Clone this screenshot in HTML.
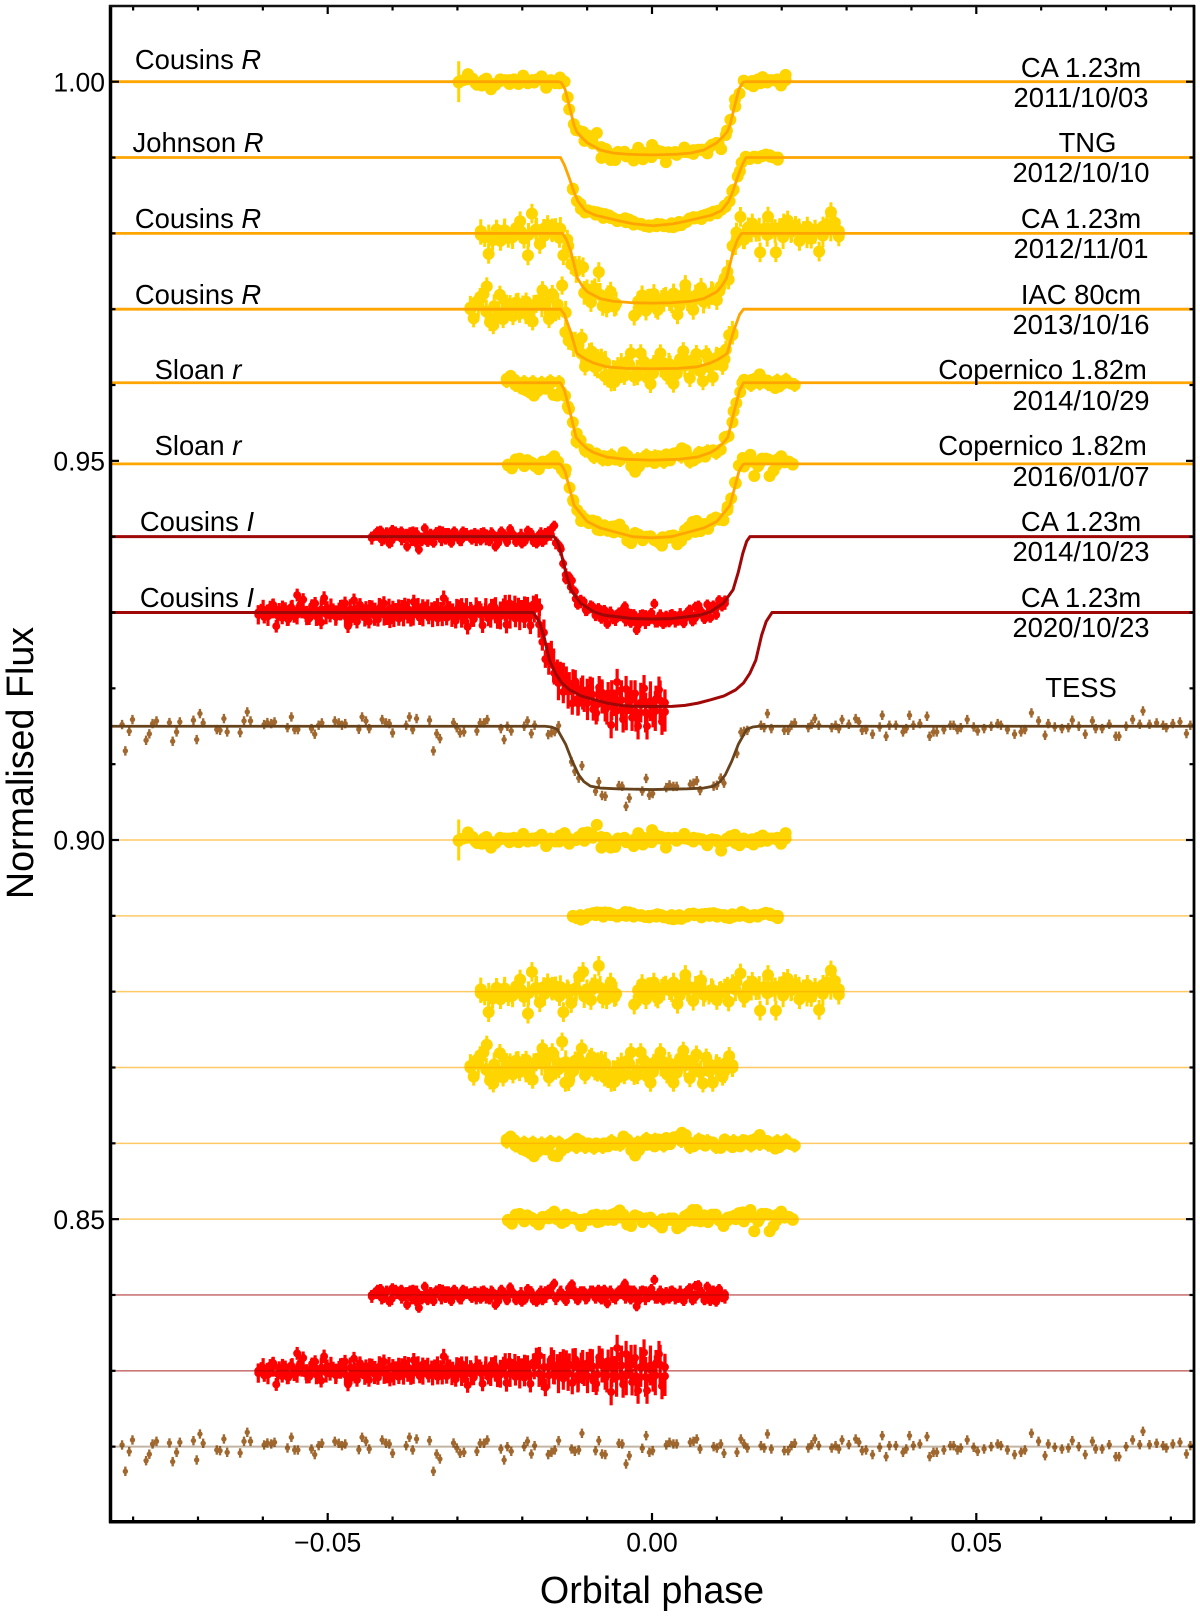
<!DOCTYPE html>
<html lang="en">
<head>
<meta charset="utf-8">
<title>Normalised flux light curves</title>
<style>
html,body{margin:0;padding:0;background:#fff;width:1200px;height:1617px;overflow:hidden}
svg{display:block}
text{font-family:"Liberation Sans",sans-serif;fill:#000}
.tk{font-size:26.5px}
.lb{font-size:27.4px;text-anchor:middle}
.ax{font-size:37.7px;text-anchor:middle}
</style>
</head>
<body>
<svg id="chart" xmlns="http://www.w3.org/2000/svg" width="1200" height="1617" viewBox="0 0 1200 1617">
  <g id="marks"></g>
  <g id="ticks"></g>
  <line x1="110.5" y1="5" x2="110.5" y2="1523" stroke="#000" stroke-width="3.5"/>
  <line x1="109" y1="1521.7" x2="1195" y2="1521.7" stroke="#000" stroke-width="3.5"/>
  <line x1="109" y1="6" x2="1195" y2="6" stroke="#111" stroke-width="2.6"/>
  <line x1="1194" y1="5" x2="1194" y2="1523" stroke="#000" stroke-width="2.8"/>
  <g id="ticklabels"></g>

  <text class="ax" x="652" y="1603">Orbital phase</text>
  <text class="ax" transform="translate(33,763) rotate(-90)">Normalised Flux</text>

  <g>
    <text class="lb" x="198" y="69">Cousins <tspan font-style="italic">R</tspan></text>
    <text class="lb" x="198" y="152">Johnson <tspan font-style="italic">R</tspan></text>
    <text class="lb" x="198" y="228">Cousins <tspan font-style="italic">R</tspan></text>
    <text class="lb" x="198" y="304">Cousins <tspan font-style="italic">R</tspan></text>
    <text class="lb" x="198" y="379">Sloan <tspan font-style="italic">r</tspan></text>
    <text class="lb" x="198" y="455">Sloan <tspan font-style="italic">r</tspan></text>
    <text class="lb" x="197" y="531">Cousins <tspan font-style="italic">I</tspan></text>
    <text class="lb" x="197" y="607">Cousins <tspan font-style="italic">I</tspan></text>
  </g>
  <g>
    <text class="lb" x="1081" y="77">CA 1.23m</text>
    <text class="lb" x="1081" y="107">2011/10/03</text>
    <text class="lb" x="1087.5" y="152">TNG</text>
    <text class="lb" x="1081" y="182">2012/10/10</text>
    <text class="lb" x="1081" y="228">CA 1.23m</text>
    <text class="lb" x="1081" y="258">2012/11/01</text>
    <text class="lb" x="1081" y="304">IAC 80cm</text>
    <text class="lb" x="1081" y="334">2013/10/16</text>
    <text class="lb" x="1042.5" y="379">Copernico 1.82m</text>
    <text class="lb" x="1081" y="410">2014/10/29</text>
    <text class="lb" x="1042.5" y="455">Copernico 1.82m</text>
    <text class="lb" x="1081" y="486">2016/01/07</text>
    <text class="lb" x="1081" y="531">CA 1.23m</text>
    <text class="lb" x="1081" y="561">2014/10/23</text>
    <text class="lb" x="1081" y="607">CA 1.23m</text>
    <text class="lb" x="1081" y="637">2020/10/23</text>
    <text class="lb" x="1081" y="697">TESS</text>
  </g>
</svg>

<script>
// ---- Axis tick data ----
const yMinorTicks = [1.00,0.99,0.98,0.97,0.96,0.95,0.94,0.93,0.92,0.91,0.90,0.89,0.88,0.87,0.86,0.85,0.84,0.83,0.82];
const yMajorTicks = [1.00,0.95,0.90,0.85];
const yTickLabels = ["1.00","0.95","0.90","0.85"];
const xMinorTicks = [-0.08,-0.07,-0.06,-0.05,-0.04,-0.03,-0.02,-0.01,0,0.01,0.02,0.03,0.04,0.05,0.06,0.07,0.08];
const xMajorTicks = [-0.05,0,0.05];
const xTickLabels = ["\u22120.05","0.00","0.05"];

// ---- Series baselines (normalised flux) ----
const transitBaselines = [1.00,0.99,0.98,0.97,0.9603,0.9496,0.94,0.93,0.915];
const residualBaselines = [0.90,0.89,0.88,0.87,0.86,0.85,0.84,0.83,0.82];

// ---- Phase span of each ground-based series (milli-phase) ----
const phaseStarts = [-29.8,-12.2,-26.4,-28.0,-22.4,-22.2,-43.2,-60.7];
const phaseEnds = [20.6,19.4,28.8,12.4,22.0,21.7,11.25,2.0];
const modelCentres = [0,0.2,0,0,0,0,0,0.1,0];

// ---- Residuals (units of 1e-3 flux), null = no observation ----
const residCA2011 = [0,0.2,1.0,0.4,-0.4,-0.5,0.4,-1.0,-0.4,0.3,0.2,-0.3,0.3,-0.3,0.8,-0.2,0.2,0.3,0.7,-0.8,0.2,-0.2,0.6,0.9,-0.5,0,0.4,0.9,1.0,0.7,2.0,-1.0,0.3,-1.0,-0.9,0.1,0.3,-0.2,-0.8,0.9,-0.6,0.2,1.3,0.6,0.4,-1.0,0.2,0.3,0.2,0.8,0.1,0.3,0.2,0,-0.7,0.1,0,-1.4,-0.2,0.5,0.7,-0.7,0.1,-0.3,-0.6,0.3,0.6,-0.1,0.2,0.1,-0.5,0.9];
const residTNG2012 = [-0.1,-0.3,-0.5,-0.3,0.1,0.35,0.45,0.4,0.45,0.4,0.2,-0.1,0.1,0.5,0.45,0.3,0.1,0,-0.15,-0.2,0.05,0.2,0.1,-0.1,-0.35,-0.45,-0.35,-0.4,-0.1,0.25,0.3,0.15,-0.2,0.25,0.3,0.35,0.2,0.1,-0.2,-0.3,-0.1,0.1,0.5,0.2,-0.2,0.1,-0.1,0.2,0.4,0.3,0,-0.3];
const residCA2012 = [-0.2,-0.5,-2.7,-0.9,0.5,-1.0,0.4,-0.6,-0.3,0.7,1.6,-0.7,-2.9,2.6,0.5,-1.4,0.6,1.1,0.3,0.7,-0.6,-2.7,0.3,-1.5,0.4,2.0,2.6,0.3,-1.1,1.0,3.4,-0.9,-1.0,1.2,-0.7,null,null,null,null,-1.7,0.2,1.0,-1.0,0.6,1.2,-0.9,0.4,0.8,0.2,1.2,-1.6,0.8,2.2,0.6,-1.2,0.7,1.5,-0.1,-0.4,0.2,-1.1,0.1,0.4,-1.3,1.0,1.3,2.4,-0.8,0.8,1.3,0.2,-2.5,0.6,2.2,0.6,-2.5,0.7,1.3,1.7,0.2,1.0,-1.0,0.3,0.9,-0.7,0.5,-2.4,0.9,1.2,2.8,1.4,-0.4];
const residIAC2013 = [0,-1.2,1.0,1.6,2.0,3.0,-1.7,-2.1,-1.0,1.9,-1.3,0.7,0.3,-0.9,0.9,-0.6,0.6,1.0,-1.1,-1.6,0.7,1.2,2.5,0.9,-1.3,2.0,-0.4,-0.2,3.4,-2.0,-1.9,-0.6,0.9,1.2,2.5,-1.0,0.4,1.4,-0.5,0.8,1.0,-1.3,-1.5,-2.0,-1.9,0.2,-0.8,-1.0,0.9,2.0,-1.1,-1.0,2.0,0.9,-1.2,-2.0,0.6,1.0,2.0,0.7,-0.9,0.5,-2.0,-0.7,1.2,2.2,0.9,-1.4,1.0,1.7,-0.6,-2.1,1.3,-0.5,-2.0,0.3,0.2,-1.2,0.6,1.5,0];
const residCop2014 = [0.5,0.9,0.4,-0.2,-0.8,-1.0,-1.3,-1.7,-1.1,-0.6,-0.8,-0.2,-1.6,-1.7,-1.0,-0.4,-0.1,0.2,0.6,0.3,-0.3,0,-0.4,0,-0.2,0,-0.4,-0.1,-0.2,0.1,0.9,0.5,-0.9,-1.6,-0.9,0.2,-0.2,0.4,-0.4,0.5,0.3,0.7,-0.1,0.8,0.9,1.4,1.1,0.1,-0.4,-0.1,0.4,-0.3,0.2,0.1,-0.4,-0.6,0.5,-0.2,-0.5,0,-0.4,0.4,0,0.4,0.6,1.1,0.4,0.3,-0.2,-0.7,-0.5,-0.1,0.2,-0.1,-0.3];
const residCop2016 = [-0.1,-0.6,0.6,0.7,-0.1,0.5,0.2,-0.3,-0.7,0.3,0.3,0.6,1.0,0.3,-0.5,0.6,0.1,0.2,-0.1,-0.9,0,-0.1,0.5,0.6,-0.3,0.5,-0.1,0.6,0.8,1.15,0.6,-0.7,-0.9,0.5,0.3,-0.4,0.1,0.2,-0.3,-0.6,-1.1,-0.2,0.1,0.1,-1.2,-0.9,0.4,0.7,1.2,1.2,-0.3,0.5,-0.4,0.6,0.6,-0.1,-0.9,-0.2,0.3,0.5,0.8,0.9,0.5,1.2,-1.6,-0.3,0.7,0.7,-1.6,-0.9,0.6,1.0,0.4,0.3,-0.1];
const residCA2014 = [0,0.3,0.7,0.8,-0.4,0.5,-0.9,0.9,0.7,0.3,0.7,-0.2,-1.3,0.6,0.7,-0.8,-1.7,-0.6,1.1,-0.7,0.4,-0.8,0.6,0.8,0.7,-0.4,0.5,-0.8,0.7,0.2,-0.6,0.7,0.3,0.2,-0.4,0.5,0.3,-0.5,0.6,0.3,-0.6,0.4,-1.3,-0.8,0.7,0.3,-0.7,1.0,0.3,-0.7,-0.3,-0.9,-0.6,0.8,0.5,-0.7,-0.9,0.3,-0.7,0.5,0.7,1.0,1.5,-0.3,0.4,-0.3,-0.8,0.9,1.4,0.5,-0.7,0.5,0.5,-0.5,0.2,0.6,-0.4,0.7,-0.6,0.7,-1.1,0.5,-0.4,0.2,0.6,0.9,1.5,0.7,-0.6,0.6,-1.5,-0.6,0.6,0.5,-0.3,0.8,2.0,-0.5,0.5,-0.7,0.4,-0.5,0.6,0.3,-0.4,-0.3,-0.8,0.5,0.9,-0.7,1.2,1.3,0.4,-0.7,1.1,-0.8,0.6,-0.9,0.8,-0.3,0.1];
const residCA2020 = [0,0.3,-0.6,0.2,0.7,1.0,-1.8,0.4,-0.7,0.5,-0.9,0.7,-0.5,2.3,1.0,1.7,-0.4,-0.8,0.9,1.2,-0.5,-1.3,1.9,0.6,-0.4,0.3,-0.6,0.4,0.8,1.2,-1.8,-0.9,1.6,-1.2,1.0,-0.2,0.6,-1.2,0.7,0.4,-0.9,0.8,1.2,-0.7,-1.1,0.6,0.3,-0.8,0.7,1.0,-0.5,-0.9,1.4,0.3,-0.7,0.8,0.5,-0.6,0.4,0.5,-0.8,0.4,1.9,-0.7,0.5,0.2,-1.1,0.7,0.9,-0.6,-1.9,0.4,-0.9,0.6,0.5,-1.7,0.3,-0.8,0.8,0.7,-1.0,0.3,0.7,-1.6,1.2,0.4,-0.8,0.8,0.5,-0.9,0.9,-1.7,1.1,1.9,2.0,-1.4,-2.2,0.5,1.6,-0.3,0.7,1.0,-1.0,1.2,0.8,-1.6,1.5,-1.2,0.9,-0.5,1.0,1.4,-1.3,-1.7,1.8,1.2,-1.0,1.3,-2.8,0.2,3.0,0.7,-1.8,2.2,0.7,-1.5,1.7,-2.6,0.4,2.4,-2.6,0.2,-1.0,1.0,2.2,-2.0,0.5];

// ---- Densely packed core observations, same phase span as the series above ----
const coreCA2011 = [-0.1,0.3,-0.2,0.2,-0.3,0.1,0.2,-0.2,0.3,-0.1,0.2,0.1,-0.2,0.3,0,-0.1,0.3,0.4,-0.2,0.2,-0.3,0.1,0.3,-0.3,0.2,0.3,-0.1,0.2,-0.2,0.1,0,-0.3,0.2,-0.4,0.2,0.1,-0.2,0.2,0.3,0.2];
const coreTNG2012 = [0,0.1,0.2,0.1,-0.1,0.1,0.1,0,-0.1,0.1,0,-0.1,-0.2,0.1,0.1,-0.1,0.1,0.2,0,-0.1,0.1,0.2,0,-0.1,0.1,0.2,0.1,0];
const coreCA2012 = [0.3,-0.4,0.2,0.4,-0.5,0.3,-0.2,0.5,-0.3,0.4,0.6,-0.2,0.3,-0.6,0.3,0.5,0.4,-0.3,null,null,-0.3,0.3,-0.4,0.4,0.2,-0.5,0.3,0.5,-0.4,0.2,-0.3,0.4,0.3,-0.5,0.4,0.5,-0.2,0.3,-0.5,0.3,0.4,-0.4,0.2,-0.3,0.5,0.3];
const coreIAC2013 = [0.2,0.5,-0.3,0.4,-0.5,0.3,0.6,-0.4,0.3,0.5,-0.5,0.6,0.7,-0.4,0.4,0.8,-0.3,0.5,-0.6,0.4,0.5,-0.4,0.2,-0.6,0.4,0.5,-0.5,0.3,0.4,-0.6,0.5,0.2,-0.5,0.3];
const coreCop2014 = [0.2,-0.3,0.1,0.1,0,0.2,0.1,-0.4,-0.5,-0.5,-0.6,-0.5,0.3,-0.2,0.2,0.1,0.6,0.5,-0.3,0.6,0.3,-0.5,0.5,0.3,-0.5,0.4,0.3,0.3,-0.3,-0.1,-0.2,0.3,0.4,-0.3];
const coreCop2016 = [-0.2,0.2,-0.3,0.1,-0.2,0.1,0,-0.3,0.2,-0.1,0,-0.4,0.1,-0.1,0.2,-0.3,0.3,0.1,-0.3,0,-0.1,-0.3,-0.3,-0.2,0.3,0.3,-0.2,0.2,0,-0.3,0.3,0.2,0.6,-0.2,0.2,0];
const coreCA2014 = [-0.2,0.3,-0.4,0.4,-0.5,0.3,-0.3,0.2,-0.4,0.4,-0.3,0.2,-0.2,0.4,-0.4,0.3,-0.3,0.2,-0.4,0.3,0.1,-0.4,0.3,-0.3,0.4,-0.2,0.3,-0.4,0.4,-0.3,0.2,-0.2,0.3,-0.4,0.4,-0.2,0.3,-0.5,0.4,-0.3,0.3,-0.3,0.2,-0.4,0.4,-0.3,0.3,-0.2,0.4,-0.4,0.3,-0.3,0.4,-0.2,0.3,-0.5,0.2,-0.3,0.4,-0.3,0.3,-0.4,0.4,-0.2,0.3,-0.3,0.4,-0.4,0.3,-0.2,0.3,-0.3];
const coreCA2020 = [-0.3,0.4,-0.5,0.5,-0.4,0.3,-0.5,0.4,-0.3,0.5,-0.4,0.3,-0.5,0.4,-0.2,0.5,-0.4,0.3,-0.5,0.4,-0.3,0.4,-0.5,0.3,-0.4,0.5,-0.3,0.4,-0.5,0.3,-0.4,0.4,-0.3,0.5,-0.4,0.3,-0.5,0.4,-0.3,0.5,-0.4,0.3,-0.5,0.4,-0.4,0.5,-0.3,0.4,-0.5,0.3,-0.5,0.6,-0.4,0.5,-0.6,0.4,-0.5,0.6,-0.4,0.5,-0.6,0.5,-0.7,0.6,-0.4,0.7,-0.6,0.5,-0.7,0.6,-0.5,0.7,-0.6,0.5,-0.8,0.7,-0.6,0.8,-0.7,0.5,-0.8,0.7,-0.6,0.8,-0.7];

// ---- TESS observations: phase (milli-phase) and residual (1e-3 flux) ----
const tessPhases = [-81.7,-81.2,-80.6,-80.1,-78.0,-77.5,-77.0,-76.4,-74.4,-73.9,-73.3,-72.8,-70.7,-70.2,-69.7,-69.2,-67.1,-66.6,-66.0,-65.5,-63.5,-62.9,-62.4,-61.9,-59.8,-59.3,-58.7,-58.2,-56.2,-55.6,-55.1,-54.6,-52.5,-52.0,-51.4,-50.9,-48.9,-48.3,-47.8,-47.3,-45.2,-44.7,-44.1,-43.6,-41.6,-41.0,-40.5,-40.0,-37.9,-37.4,-36.9,-36.3,-34.3,-33.7,-33.2,-32.7,-30.6,-30.1,-29.6,-29.0,-27.0,-26.5,-25.9,-25.4,-23.3,-22.8,-22.3,-21.7,-19.7,-19.2,-18.6,-18.1,-16.0,-15.5,-15.0,-14.4,-12.4,-11.9,-11.3,-10.8,-8.7,-8.2,-7.7,-7.2,-5.1,-4.6,-4.0,-3.5,-1.5,-0.9,-0.4,0.1,2.2,2.7,3.3,3.8,5.9,6.4,6.9,7.4,9.5,10.0,10.6,11.1,13.1,13.7,14.2,14.7,16.8,17.3,17.8,18.4,20.4,21.0,21.5,22.0,24.1,24.6,25.1,25.7,27.7,28.3,28.8,29.3,30.35,31.4,31.9,32.4,33.0,34.0,35.1,35.5,36.1,36.6,37.6,38.7,39.2,39.7,40.3,41.3,42.4,42.8,43.4,43.9,45.0,46.0,46.5,47.1,47.6,48.6,49.6,50.2,51.2,52.3,53.3,53.8,54.8,55.9,56.9,57.5,58.5,59.6,60.6,61.1,62.1,63.2,64.2,64.8,65.8,66.8,67.9,68.4,69.4,70.5,71.5,72.0,73.1,74.1,75.2,75.7,76.7,77.8,78.8,79.3,80.3,81.4,82.4,83.0];
const residTESS = [0.22,-3.25,-0.66,0.88,-1.85,-1.0,0.35,0.70,0.48,-1.98,-0.75,0.57,0.79,-1.76,1.67,0.44,-0.44,-0.53,1.01,-0.75,-0.84,0.70,1.89,0.70,0.22,0.48,0.35,0.57,-0.18,1.23,-0.44,-0.44,-0.31,-1.05,0.13,0.44,0.70,0.44,0.13,0.35,-0.40,1.23,0.70,-0.31,0.88,0.44,0.35,-0.88,0.13,1.23,-0.44,1.01,0.79,-3.25,-0.97,-1.63,0.48,-0.18,-0.88,-0.75,-0.62,0.44,0.44,0.88,-0.31,-1.76,0,-0.62,0,0.70,-0.97,0.13,-1.05,-0.75,-0.44,0.79,-0.31,-0.62,-0.44,1.76,-0.53,0.79,-0.97,-1.05,0.44,0.35,-2.29,-1.19,-0.22,1.45,-0.75,-0.53,0.22,0.57,0.35,0.35,0.57,0.70,1.01,-0.31,0,-0.18,0.35,-0.88,-0.75,1.01,0.35,-0.18,0.13,-0.18,1.67,-0.31,-0.53,-0.53,0.13,0.44,-0.18,0.26,1.01,0.13,-0.18,0.13,-0.31,0.88,0.26,1.01,0.57,-0.53,-0.44,-1.05,-0.09,1.45,-1.32,0.13,0.13,-0.75,-0.31,1.45,0.13,0.35,1.32,-1.32,-0.75,-0.75,-0.44,0.13,0.13,-0.44,-0.18,0.88,-0.09,-0.62,-0.31,0,0.35,0.13,-0.44,-1.05,-0.75,-0.44,1.76,0.70,-1.19,0.35,-0.09,-0.31,-0.18,0.79,0,-1.05,0.70,-0.31,-0.31,0.26,-1.32,-1.32,0,0.88,0.26,2.02,0.26,0.44,0.13,-0.18,0.35,0.57,-0.97,0.13];

// ---- Error bars (1e-3 flux), equal-width segments along each series ----
const errCA2011 = [0.4];
const errCA2011First = [2.7];
const errTNG2012 = [0.3];
const errCA2012 = [1.3];
const errIAC2013 = [1.2];
const errCop2014 = [0.7];
const errCop2016 = [0.5];
const errCA2014 = [0.65];
const errCA2020 = [0.85,0.9,0.95,1.0,1.15,1.5,1.75];
const errTESS = [0.62];
// core observations have wider error bars than the outlying points
const coreErrorFactors = [1,1,1.2,1.3,1.3,1.3,1.3,1.5,1];

// ---- Transit models: half-profile, |phase - centre| (milli-phase) vs depth (1e-3 flux) ----
const modelPhaseCA2011 = [0,2,4,6,8,10,11,11.6,12,12.6,13.4,14,14.4];
const modelDepthCA2011 = [9.65,9.62,9.55,9.4,9,8.05,7.2,6.6,5.8,3.7,1,0.1,0];
const modelPhaseTNG2012 = [0,3,5,7,9,10.5,11.6,12.2,13,13.7,14.3];
const modelDepthTNG2012 = [9,8.75,8.4,8,7.6,7,5.8,4.6,2.6,1,0];
const modelPhaseCA2012 = [0,3,6,8,10,10.7,11.5,12.5,13.2,13.8];
const modelDepthCA2012 = [9.2,9.15,8.95,8.6,7.7,7,5.9,2.4,0.8,0];
const modelPhaseIAC2013 = [0,4,7,9,10,11,11.6,12.5,13.5,14.1];
const modelDepthIAC2013 = [7.85,7.8,7.6,7.1,6.7,6.2,5.8,3.1,0.7,0];
const modelPhaseCop2014 = [0,4,7,9,10,11,11.7,12.6,13.5,14.1];
const modelDepthCop2014 = [10.2,10.1,9.8,9.2,8.7,7.9,7.2,4,1,0];
const modelPhaseCop2016 = [0,3,8,10,12,12.6,13.4,14,14.3];
const modelDepthCop2016 = [9.75,9.6,8.45,7.6,5.5,3.6,1,0.1,0];
const modelPhaseCA2014 = [0,3,7.4,9,11,12.5,13.3,14,14.6,15.1];
const modelDepthCA2014 = [10.85,10.8,10.35,9.9,8.8,7,4.7,2.2,0.6,0];
const modelPhaseCA2020 = [0,3,5,7,9,11,12.8,14,15,15.9,16.8,17.5,18.4];
const modelDepthCA2020 = [12.4,12.38,12.25,11.95,11.5,11.0,10.2,9.3,8.0,6.3,3,1.2,0];
const modelPhaseTESS = [0,5.4,8,9.5,10.5,11.3,12.3,13.3,14.6,15.5,16.5];
const modelDepthTESS = [8.35,8.25,8.15,7.9,7.3,6.4,4.6,2.4,0.4,0.1,0];

// ---- Wiring ----
const residualSets = [residCA2011,residTNG2012,residCA2012,residIAC2013,residCop2014,residCop2016,residCA2014,residCA2020,residTESS];
const coreSets = [coreCA2011,coreTNG2012,coreCA2012,coreIAC2013,coreCop2014,coreCop2016,coreCA2014,coreCA2020,[]];
const errorSets = [errCA2011,errTNG2012,errCA2012,errIAC2013,errCop2014,errCop2016,errCA2014,errCA2020,errTESS];
const modelPhaseSets = [modelPhaseCA2011,modelPhaseTNG2012,modelPhaseCA2012,modelPhaseIAC2013,modelPhaseCop2014,modelPhaseCop2016,modelPhaseCA2014,modelPhaseCA2020,modelPhaseTESS];
const modelDepthSets = [modelDepthCA2011,modelDepthTNG2012,modelDepthCA2012,modelDepthIAC2013,modelDepthCop2014,modelDepthCop2016,modelDepthCA2014,modelDepthCA2020,modelDepthTESS];
const seriesKinds = ["gold","gold","gold","gold","gold","gold","red","red","brown"];

const looks = {
  gold:{dot:"#ffd500",r:6,bar:3,line:"#ffa500",lineW:2.8,resOp:0.6,resW:1.5},
  red:{dot:"#ff0000",r:4,bar:3.2,line:"#a00808",lineW:3,resOp:0.55,resW:1.6},
  brown:{dot:"#a0682e",r:2.7,bar:2.4,line:"#66431c",lineW:2.8,resOp:0.4,resW:2}
};

// ---- Axis functions ----
const xOfPhase = p => 652 + 6486 * p;
const xOfMilli = m => xOfPhase(m / 1000);
const yOfFlux = f => 81.7 + (1 - f) * 7583;
const X_LEFT = 111, X_RIGHT = 1194;

const NS = "http://www.w3.org/2000/svg";
const marks = document.getElementById("marks");
const ticksG = document.getElementById("ticks");
const labelsG = document.getElementById("ticklabels");

function depthAt(phases, depths, centre, m) {
  const d = Math.abs(m - centre);
  if (d >= phases[phases.length - 1]) return 0;
  for (let i = 1; i < phases.length; i++) {
    if (d <= phases[i]) {
      const t = (d - phases[i - 1]) / (phases[i] - phases[i - 1]);
      return depths[i - 1] + t * (depths[i] - depths[i - 1]);
    }
  }
  return 0;
}

function drawPoint(parent, look, x, y, err) {
  const bar = document.createElementNS(NS, "line");
  
  
  bar.setAttribute("x1", x.toFixed(2));
  bar.setAttribute("x2", x.toFixed(2));
  bar.setAttribute("y1", (y - err * 7.583).toFixed(2));
  bar.setAttribute("y2", (y + err * 7.583).toFixed(2));
  bar.setAttribute("stroke", look.dot);
  bar.setAttribute("stroke-width", look.bar);
  parent.appendChild(bar);
  const dot = document.createElementNS(NS, "circle");
  
  
  dot.setAttribute("cx", x.toFixed(2));
  dot.setAttribute("cy", y.toFixed(2));
  dot.setAttribute("r", look.r);
  dot.setAttribute("fill", look.dot);
  parent.appendChild(dot);
}

residualSets.forEach((resid, s) => {
  const look = looks[seriesKinds[s]];
  const errs = errorSets[s];
  const base = transitBaselines[s];
  const resBase = residualBaselines[s];
  const centre = modelCentres[s];
  const mp = modelPhaseSets[s];
  const md = modelDepthSets[s];
  const core = coreSets[s];

  const phaseOf = (i, n) => s < 8
    ? phaseStarts[s] + (phaseEnds[s] - phaseStarts[s]) * i / (n - 1)
    : tessPhases[i];

  const top = document.createElementNS(NS, "g");
  
  
  marks.appendChild(top);
  const low = document.createElementNS(NS, "g");
  
  
  marks.appendChild(low);

  const plotArray = (arr, isMain) => {
    arr.forEach((r, i) => {
      if (r === null) return;
      const m = phaseOf(i, arr.length);
      const seg = Math.min(errs.length - 1, Math.floor(i / arr.length * errs.length));
      const err = (isMain && s === 0 && i === 0) ? errCA2011First[0]
        : errs[seg] * (isMain ? 1 : coreErrorFactors[s]);
      const x = xOfMilli(m);
      const d = depthAt(mp, md, centre, m);
      drawPoint(top, look, x, yOfFlux(base + (r - d) / 1000), err);
      drawPoint(low, look, x, yOfFlux(resBase + r / 1000), err);
    });
  };
  plotArray(core, false);
  plotArray(resid, true);

  // model curve
  const verts = [];
  verts.push([X_LEFT, yOfFlux(base)]);
  for (let i = mp.length - 1; i >= 0; i--) {
    verts.push([xOfMilli(centre - mp[i]), yOfFlux(base - md[i] / 1000)]);
  }
  for (let i = 1; i < mp.length; i++) {
    verts.push([xOfMilli(centre + mp[i]), yOfFlux(base - md[i] / 1000)]);
  }
  verts.push([X_RIGHT, yOfFlux(base)]);
  const model = document.createElementNS(NS, "polyline");
  
  
  model.setAttribute("points", verts.map(v => v[0].toFixed(2) + "," + v[1].toFixed(2)).join(" "));
  model.setAttribute("fill", "none");
  model.setAttribute("stroke", look.line);
  model.setAttribute("stroke-width", look.lineW);
  model.setAttribute("stroke-linejoin", "round");
  top.appendChild(model);

  // residual zero line
  const zero = document.createElementNS(NS, "line");
  
  
  zero.setAttribute("x1", X_LEFT);
  zero.setAttribute("x2", X_RIGHT);
  zero.setAttribute("y1", yOfFlux(resBase).toFixed(2));
  zero.setAttribute("y2", yOfFlux(resBase).toFixed(2));
  zero.setAttribute("stroke", look.line);
  zero.setAttribute("stroke-opacity", look.resOp);
  zero.setAttribute("stroke-width", look.resW);
  low.appendChild(zero);
});

// ---- Ticks ----
function drawTick(x1, y1, x2, y2, w) {
  const t = document.createElementNS(NS, "line");
  
  
  t.setAttribute("x1", x1);
  t.setAttribute("y1", y1);
  t.setAttribute("x2", x2);
  t.setAttribute("y2", y2);
  t.setAttribute("stroke", "#000");
  t.setAttribute("stroke-width", w);
  ticksG.appendChild(t);
}

yMinorTicks.forEach(f => {
  const major = yMajorTicks.includes(f);
  const len = major ? 8 : 4.5;
  const y = yOfFlux(f).toFixed(2);
  drawTick(111, y, 111 + len, y, 2.2);
  drawTick(1194, y, 1194 - len, y, 2.2);
});
xMinorTicks.forEach(p => {
  const major = xMajorTicks.includes(p);
  const len = major ? 8 : 4.5;
  const x = xOfPhase(p).toFixed(2);
  drawTick(x, 1521, x, 1521 - len, 2.2);
  drawTick(x, 6, x, 6 + len, 2.2);
});

// ---- Tick labels ----
yMajorTicks.forEach((f, i) => {
  const t = document.createElementNS(NS, "text");
  
  
  t.setAttribute("class", "tk");
  t.setAttribute("x", 105);
  t.setAttribute("y", (yOfFlux(f) + 9.6).toFixed(2));
  t.setAttribute("text-anchor", "end");
  t.textContent = yTickLabels[i];
  labelsG.appendChild(t);
});
xMajorTicks.forEach((p, i) => {
  const t = document.createElementNS(NS, "text");
  
  
  t.setAttribute("class", "tk");
  t.setAttribute("x", xOfPhase(p).toFixed(2));
  t.setAttribute("y", 1551.5);
  t.setAttribute("text-anchor", "middle");
  t.textContent = xTickLabels[i];
  labelsG.appendChild(t);
});
</script>
</body>
</html>
